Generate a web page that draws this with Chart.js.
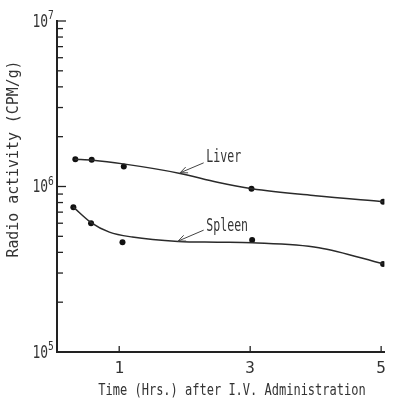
<!DOCTYPE html>
<html>
<head>
<meta charset="utf-8">
<script src="https://cdn.jsdelivr.net/npm/chart.js@4"></script>
<style>
  html, body { margin: 0; padding: 0; background: #fff; }
  #contenedor { width: 393px; height: 404px; }
</style>
</head>
<body>
<div id="contenedor"><canvas id="grafica"></canvas></div>
<script>
// puntos medidos
const horas_liver = [0.33, 0.58, 1.07, 3.02, 5.03];
const cpm_liver = [1.46e6, 1.45e6, 1.32e6, 0.97e6, 0.81e6];
const horas_spleen = [0.3, 0.57, 1.05, 3.03, 5.03];
const cpm_spleen = [0.75e6, 0.6e6, 0.46e6, 0.475e6, 0.34e6];

// curvas dibujadas a mano en el original
const curva_liver_x = [0.32, 0.6, 1.06, 1.93, 2.5, 3.03, 4.0, 5.03];
const curva_liver_y = [1.46e6, 1.44e6, 1.37e6, 1.2e6, 1.06e6, 0.97e6, 0.88e6, 0.81e6];
const curva_spleen_x = [0.3, 0.57, 0.85, 1.2, 1.9, 2.5, 3.03, 4.05, 5.03];
const curva_spleen_y = [0.75e6, 0.605e6, 0.53e6, 0.495e6, 0.466e6, 0.461e6, 0.457e6, 0.427e6, 0.341e6];

const ticks_x = [1, 3, 5];
const decadas_y = [1e5, 1e6, 1e7];

const tinta = "#222";
const fuente = "'DejaVu Sans Mono', monospace";

const aPuntos = (xs, ys) => xs.map((x, i) => ({ x: x, y: ys[i] }));

// texto estrecho tipo rotulador: se escala a lo ancho
function textoEstrecho(ctx, texto, x, y, size, escala, align, giro) {
  ctx.save();
  ctx.translate(x, y);
  if (giro) ctx.rotate(giro);
  ctx.scale(escala, 1);
  ctx.font = size + "px " + fuente;
  ctx.textAlign = align;
  ctx.textBaseline = "middle";
  ctx.fillText(texto, 0, 0);
  ctx.restore();
}

// marcas hacia dentro, etiquetas 10^n, titulos y flechas de Liver / Spleen
const plugin_marcas = {
  id: "marcasYNotas",
  afterDraw: (chart) => {
    const ctx = chart.ctx;
    const sx = chart.scales.x;
    const sy = chart.scales.y;
    const area = chart.chartArea;
    ctx.save();
    ctx.strokeStyle = tinta;
    ctx.fillStyle = "#333";
    ctx.lineWidth = 1.3;
    decadas_y.forEach((d) => {
      const py = sy.getPixelForValue(d);
      ctx.beginPath();
      ctx.moveTo(area.left, py);
      ctx.lineTo(area.left + 9, py);
      ctx.stroke();
      if (d < 1e7) {
        for (let k = 2; k <= 9; k++) {
          const p = sy.getPixelForValue(k * d);
          ctx.beginPath();
          ctx.moveTo(area.left, p);
          ctx.lineTo(area.left + 6, p);
          ctx.stroke();
        }
      }
      // etiqueta 10 con exponente
      const exp = String(Math.round(Math.log10(d)));
      textoEstrecho(ctx, "10", area.left - 9, py + 1, 18, 0.72, "right");
      textoEstrecho(ctx, exp, area.left - 9, py - 5, 12, 0.8, "left");
    });
    ticks_x.forEach((t) => {
      const px = sx.getPixelForValue(t);
      ctx.beginPath();
      ctx.moveTo(px, area.bottom);
      ctx.lineTo(px, area.bottom - 6);
      ctx.stroke();
    });

    // titulos de los ejes
    textoEstrecho(ctx, "Radio activity (CPM/g)", 14, 159, 16, 0.93, "center", -Math.PI / 2);
    textoEstrecho(ctx, "Time (Hrs.) after I.V. Administration", 232, 391, 16, 0.75, "center");
    ctx.restore();

    // notas con flecha
    const notas = [
      { texto: "Liver", x: 2.33, y: 1.49e6, x0: 2.29, y0: 1.39e6, x1: 1.93, y1: 1.21e6 },
      { texto: "Spleen", x: 2.33, y: 0.575e6, x0: 2.29, y0: 0.545e6, x1: 1.9, y1: 0.468e6 },
    ];
    ctx.save();
    ctx.strokeStyle = "#444";
    ctx.fillStyle = "#333";
    ctx.lineWidth = 1;
    notas.forEach((n) => {
      textoEstrecho(ctx, n.texto, sx.getPixelForValue(n.x), sy.getPixelForValue(n.y), 17, 0.68, "left");
      const ax = sx.getPixelForValue(n.x0), ay = sy.getPixelForValue(n.y0);
      const bx = sx.getPixelForValue(n.x1), by = sy.getPixelForValue(n.y1);
      ctx.beginPath();
      ctx.moveTo(ax, ay);
      ctx.lineTo(bx, by);
      const ang = Math.atan2(ay - by, ax - bx);
      ctx.moveTo(bx, by);
      ctx.lineTo(bx + 8 * Math.cos(ang - 0.4), by + 8 * Math.sin(ang - 0.4));
      ctx.moveTo(bx, by);
      ctx.lineTo(bx + 8 * Math.cos(ang + 0.4), by + 8 * Math.sin(ang + 0.4));
      ctx.stroke();
    });
    ctx.restore();
  },
};

const estiloCurva = {
  showLine: true,
  pointRadius: 0,
  borderColor: "#2a2a2a",
  borderWidth: 1.5,
  cubicInterpolationMode: "monotone",
};
const estiloPuntos = {
  showLine: false,
  pointRadius: 3,
  pointBackgroundColor: "#111",
  pointBorderColor: "#111",
  pointBorderWidth: 0,
};

new Chart(document.getElementById("grafica").getContext("2d"), {
  type: "scatter",
  data: {
    datasets: [
      { label: "Liver (curva)", data: aPuntos(curva_liver_x, curva_liver_y), ...estiloCurva },
      { label: "Spleen (curva)", data: aPuntos(curva_spleen_x, curva_spleen_y), ...estiloCurva },
      { label: "Liver", data: aPuntos(horas_liver, cpm_liver), ...estiloPuntos },
      { label: "Spleen", data: aPuntos(horas_spleen, cpm_spleen), ...estiloPuntos },
    ],
  },
  options: {
    responsive: true,
    maintainAspectRatio: false,
    animation: false,
    layout: { padding: { top: 21, right: 5, left: 0, bottom: 0 } },
    plugins: {
      legend: { display: false },
      tooltip: { enabled: false },
    },
    scales: {
      x: {
        type: "linear",
        min: 0.05,
        max: 5.05,
        afterFit: (s) => { s.height = 52; },
        afterBuildTicks: (s) => { s.ticks = ticks_x.map((v) => ({ value: v })); },
        ticks: {
          color: "#333",
          font: { family: fuente, size: 16 },
          padding: 7,
          callback: (v) => String(v),
        },
        grid: { display: true, drawOnChartArea: false, drawTicks: false },
        border: { display: true, color: tinta, width: 2 },
      },
      y: {
        type: "logarithmic",
        min: 1e5,
        max: 1e7,
        afterFit: (s) => { s.width = 57; },
        afterBuildTicks: (s) => { s.ticks = decadas_y.map((v) => ({ value: v })); },
        ticks: { display: false },
        grid: { display: true, drawOnChartArea: false, drawTicks: false },
        border: { display: true, color: tinta, width: 2 },
      },
    },
  },
  plugins: [plugin_marcas],
});
</script>
</body>
</html>
